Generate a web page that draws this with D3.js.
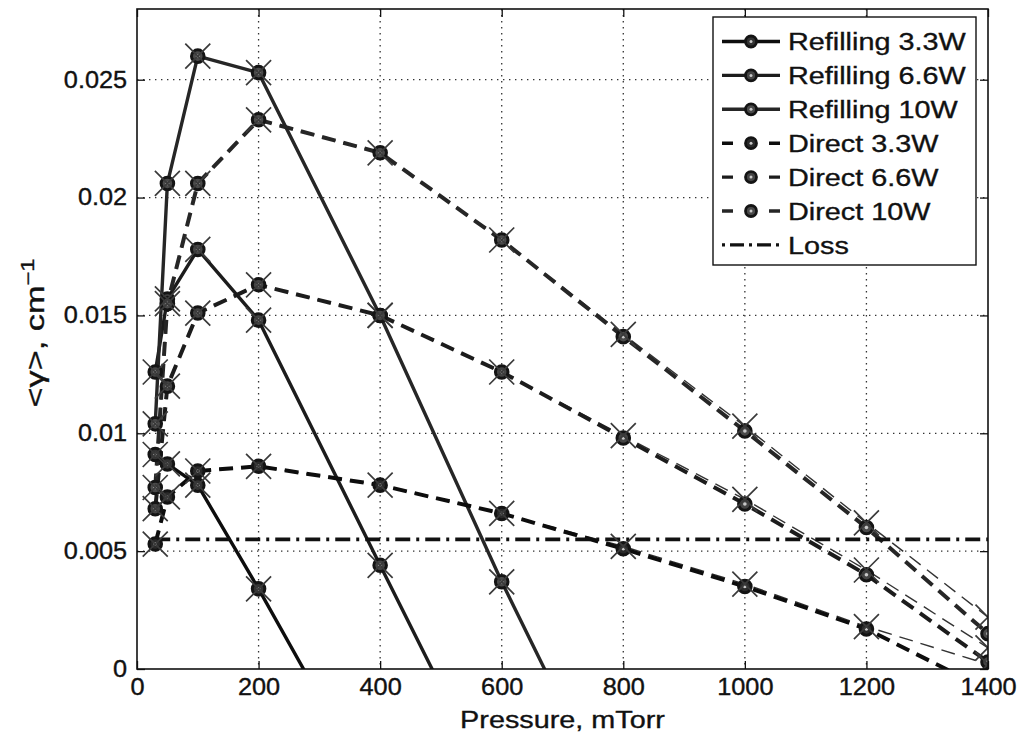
<!DOCTYPE html>
<html>
<head>
<meta charset="utf-8">
<script src="https://cdn.jsdelivr.net/npm/d3@7"></script>
<style>
  body { margin: 0; background: #fff; }
  svg text { font-family: "Liberation Sans", Arial, Helvetica, sans-serif; fill: #111; stroke: #111; stroke-width: 0.35; }
</style>
</head>
<body>
<svg id="chart" width="1026" height="736"></svg>
<script>
// ---- data (pressure in mTorr, mean gain <γ> in cm^-1) ----
// refilling runs: last value of each lies below zero, past the visible range
const refill33Pressure = [30, 50, 100, 200, 400];
const refill33 = [0.0091, 0.0087, 0.0078, 0.0034, -0.0058];
const refill66Pressure = [30, 50, 100, 200, 400, 600];
const refill66 = [0.0126, 0.0157, 0.0178, 0.0148, 0.0044, -0.0059];
const refill10Pressure = [30, 50, 100, 200, 400, 600, 800];
const refill10 = [0.0104, 0.0206, 0.0260, 0.0253, 0.0150, 0.0037, -0.0068];

// direct runs: circle series and the companion cross series
const directPressure = [30, 50, 100, 200, 400, 600, 800, 1000, 1200, 1400];
const direct33 = [0.0053, 0.0073, 0.0084, 0.0086, 0.0078, 0.0066, 0.0051, 0.0035, 0.0017, -0.0009];
const direct66 = [0.0068, 0.0120, 0.0151, 0.0163, 0.0150, 0.0126, 0.0098, 0.0070, 0.0040, 0.0003];
const direct10 = [0.0077, 0.0155, 0.0206, 0.0233, 0.0219, 0.0182, 0.0141, 0.0101, 0.0060, 0.0015];
const direct33Cross = [0.0053, 0.0073, 0.0084, 0.0086, 0.0078, 0.0066, 0.0052, 0.0036, 0.0018, 0.0002];
const direct66Cross = [0.0068, 0.0120, 0.0151, 0.0163, 0.0150, 0.0126, 0.0099, 0.0072, 0.0042, 0.0009];
const direct10Cross = [0.0077, 0.0155, 0.0206, 0.0233, 0.0219, 0.0182, 0.0142, 0.0103, 0.0062, 0.0022];

// cavity loss level
const lossPressure = [30, 1400];
const loss = [0.0055, 0.0055];

const xTicks = [0, 200, 400, 600, 800, 1000, 1200, 1400];
const yTicks = [0, 0.005, 0.01, 0.015, 0.02, 0.025];
const legendLabels = ["Refilling 3.3W", "Refilling 6.6W", "Refilling 10W",
                      "Direct 3.3W", "Direct 6.6W", "Direct 10W", "Loss"];

// ---- layout ----
const svg = d3.select("#chart");
const box = { left: 137, right: 988, top: 9, bottom: 669 };
const x = d3.scaleLinear().domain([0, 1400]).range([box.left, box.right]);
const y = d3.scaleLinear().domain([0, 0.028]).range([box.bottom, box.top]);

svg.append("rect").attr("width", 1026).attr("height", 736).attr("fill", "#fff");

svg.append("clipPath").attr("id", "plotClip")
  .append("rect")
  .attr("x", box.left).attr("y", box.top)
  .attr("width", box.right - box.left).attr("height", box.bottom - box.top);

// dotted grid
const grid = svg.append("g").attr("stroke", "#333").attr("stroke-width", 1.3)
  .attr("stroke-dasharray", "1.4,4.6");
grid.selectAll("line.gx").data(xTicks.filter(t => t > 0 && t < 1400)).join("line")
  .attr("x1", d => x(d)).attr("x2", d => x(d))
  .attr("y1", box.top).attr("y2", box.bottom);
grid.selectAll("line.gy").data(yTicks.filter(t => t > 0)).join("line")
  .attr("x1", box.left).attr("x2", box.right)
  .attr("y1", d => y(d)).attr("y2", d => y(d));

// ---- series ----
const line = d3.line().x(d => x(d[0])).y(d => y(d[1]));
const pairs = (px, vals) => px.map((p, i) => [p, vals[i]]);
const dashed = "14,8";

const series = [
  { name: legendLabels[0], pts: pairs(refill33Pressure, refill33), color: "#0d0d0d", dash: null, width: 3.4, fill: "#333" },
  { name: legendLabels[1], pts: pairs(refill66Pressure, refill66), color: "#1c1c1c", dash: null, width: 3.4, fill: "#444" },
  { name: legendLabels[2], pts: pairs(refill10Pressure, refill10), color: "#262626", dash: null, width: 3.4, fill: "#4a4a4a" },
  { name: legendLabels[3], pts: pairs(directPressure, direct33), color: "#0d0d0d", dash: dashed, width: 4, fill: "#2a2a2a",
    cross: pairs(directPressure, direct33Cross) },
  { name: legendLabels[4], pts: pairs(directPressure, direct66), color: "#1c1c1c", dash: dashed, width: 4, fill: "#444",
    cross: pairs(directPressure, direct66Cross) },
  { name: legendLabels[5], pts: pairs(directPressure, direct10), color: "#262626", dash: dashed, width: 4, fill: "#4a4a4a",
    cross: pairs(directPressure, direct10Cross) }
];

const plotArea = svg.append("g").attr("clip-path", "url(#plotClip)");

// thin companion lines of the direct runs
series.filter(s => s.cross).forEach(s => {
  plotArea.append("path").datum(s.cross)
    .attr("d", line).attr("fill", "none")
    .attr("stroke", "#333").attr("stroke-width", 1.4)
    .attr("stroke-dasharray", s.dash);
});

// main lines
series.forEach(s => {
  plotArea.append("path").datum(s.pts)
    .attr("d", line).attr("fill", "none")
    .attr("stroke", s.color).attr("stroke-width", s.width)
    .attr("stroke-linejoin", "round")
    .attr("stroke-dasharray", s.dash);
});

// loss line
plotArea.append("path").datum(pairs(lossPressure, loss))
  .attr("d", line).attr("fill", "none")
  .attr("stroke", "#111").attr("stroke-width", 3.8)
  .attr("stroke-dasharray", "15,6,3,6");

// circle markers with a light centre
series.forEach(s => {
  plotArea.selectAll(null).data(s.pts).join("circle")
    .attr("cx", d => x(d[0])).attr("cy", d => y(d[1])).attr("r", 6.3)
    .attr("fill", s.fill).attr("stroke", "#141414").attr("stroke-width", 3);
  plotArea.selectAll(null).data(s.pts).join("circle")
    .attr("cx", d => x(d[0])).attr("cy", d => y(d[1])).attr("r", 1.8)
    .attr("fill", "#c8c8c8");
});

// cross markers
const crossPath = (cx, cy, r) => `M${cx - r},${cy - r}L${cx + r},${cy + r}M${cx - r},${cy + r}L${cx + r},${cy - r}`;
series.forEach(s => {
  const pts = s.cross || s.pts;
  plotArea.selectAll(null).data(pts).join("path")
    .attr("d", d => crossPath(x(d[0]), y(d[1]), 12.5))
    .attr("fill", "none").attr("stroke", "#3a3a3a").attr("stroke-width", 1.7);
});

// ---- axes (ticks point inward, box on all four sides) ----
const fmtY = d => d === 0 ? "0" : String(+d.toFixed(3));

const gx = svg.append("g").attr("transform", `translate(0,${box.bottom})`)
  .call(d3.axisBottom(x).tickValues(xTicks).tickSize(-8).tickPadding(10).tickFormat(d3.format("d")));
const gy = svg.append("g").attr("transform", `translate(${box.left},0)`)
  .call(d3.axisLeft(y).tickValues(yTicks).tickSize(-8).tickPadding(9).tickFormat(fmtY));
const gt = svg.append("g").attr("transform", `translate(0,${box.top})`)
  .call(d3.axisTop(x).tickValues(xTicks).tickSize(-8).tickFormat(""));
const gr = svg.append("g").attr("transform", `translate(${box.right},0)`)
  .call(d3.axisRight(y).tickValues(yTicks).tickSize(-8).tickFormat(""));

[gx, gy, gt, gr].forEach(g => {
  g.select(".domain").remove();
  g.selectAll(".tick line").attr("stroke", "#111").attr("stroke-width", 1.3);
  g.selectAll("text").attr("font-size", 23).attr("fill", "#111")
    .attr("font-family", "'Liberation Sans', Arial, sans-serif")
    .attr("transform", "scale(1.1,1)");
});

svg.append("rect")
  .attr("x", box.left).attr("y", box.top)
  .attr("width", box.right - box.left).attr("height", box.bottom - box.top)
  .attr("fill", "none").attr("stroke", "#111").attr("stroke-width", 1.6);

// axis titles
svg.append("text")
  .attr("transform", `translate(${(box.left + box.right) / 2},728) scale(1.2,1)`)
  .attr("text-anchor", "middle").attr("font-size", 24)
  .text("Pressure, mTorr");

const ylab = svg.append("text")
  .attr("transform", "translate(44,333) rotate(-90) scale(1.32,1)")
  .attr("text-anchor", "middle").attr("font-size", 26);
ylab.append("tspan").text("<γ>, cm");
ylab.append("tspan").attr("dy", "-0.55em").attr("font-size", 18).text("−1");

// ---- legend ----
const lg = svg.append("g");
lg.append("rect").attr("x", 713).attr("y", 17).attr("width", 263).attr("height", 248)
  .attr("fill", "#fff").attr("stroke", "#111").attr("stroke-width", 1.4);

const legendItems = series.map(s => ({ name: s.name, color: s.color, dash: s.dash ? "11,36" : null, fill: s.fill, marker: true }))
  .concat([{ name: legendLabels[6], color: "#111", dash: "3,5,14,5", fill: null, marker: false }]);

const rowY = i => 41.5 + i * 33.9;
legendItems.forEach((it, i) => {
  const yy = rowY(i);
  lg.append("line").attr("x1", 722).attr("x2", 780).attr("y1", yy).attr("y2", yy)
    .attr("stroke", it.color).attr("stroke-width", 3.4)
    .attr("stroke-dasharray", it.dash);
  if (it.marker) {
    lg.append("circle").attr("cx", 751).attr("cy", yy).attr("r", 5.5)
      .attr("fill", it.fill).attr("stroke", "#141414").attr("stroke-width", 2.8);
    lg.append("circle").attr("cx", 751).attr("cy", yy).attr("r", 1.5).attr("fill", "#c8c8c8");
  }
  lg.append("text").attr("transform", `translate(788,${yy}) scale(1.2,1)`)
    .attr("dy", "0.36em").attr("font-size", 24).text(it.name);
});
</script>
</body>
</html>
